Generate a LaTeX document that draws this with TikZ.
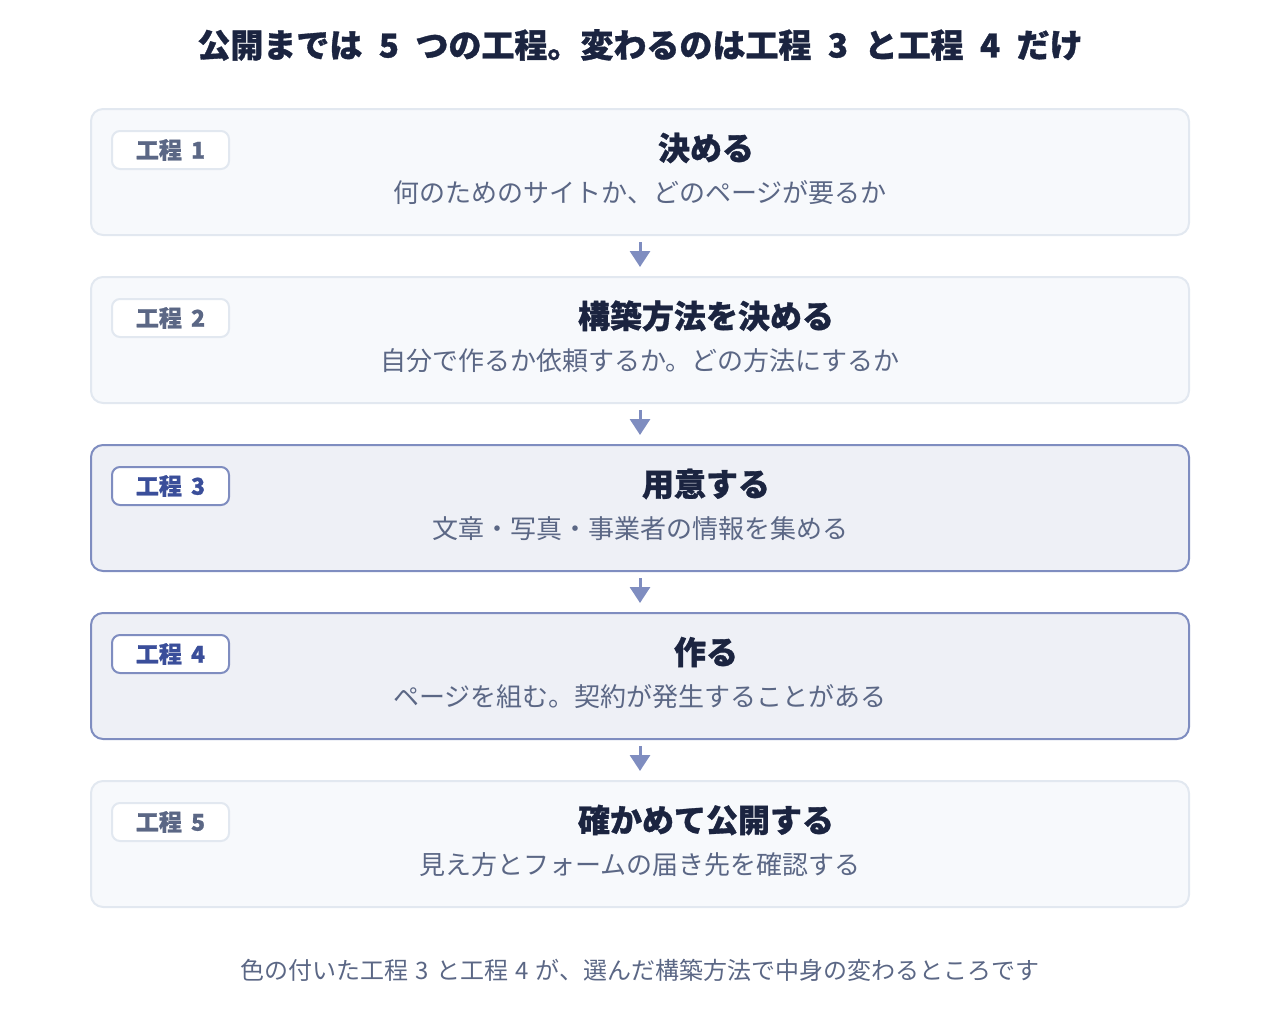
\documentclass[tikz,border=0pt]{standalone}
\usepackage{fontspec}
\setmainfont{Noto Sans CJK JP}[BoldFeatures={FakeBold=1}]
\usetikzlibrary{positioning,arrows.meta}

\definecolor{inkdark}{HTML}{1B2440}
\definecolor{inkgrey}{HTML}{5B6785}
\definecolor{plainfill}{HTML}{F7F9FC}
\definecolor{plainline}{HTML}{E2E8F0}
\definecolor{hotfill}{HTML}{EEF0F6}
\definecolor{hotline}{HTML}{7F8DC0}
\definecolor{hotink}{HTML}{3A4E9A}

\newcommand\numgap[1]{\hspace{#1em}}

\begin{document}
\begin{tikzpicture}
[
    x=1pt, y=1pt,
    node distance = 40pt,
    stepbox/.style  = {rectangle,
                       rounded corners=12pt,
                       minimum width=1098pt,
                       minimum height=126pt,
                       line width=2pt,
                       draw=plainline,
                       fill=plainfill},
    hotbox/.style   = {stepbox,
                       draw=hotline,
                       fill=hotfill},
    badge/.style    = {rectangle,
                       rounded corners=8pt,
                       minimum width=117pt,
                       minimum height=38pt,
                       line width=2pt,
                       draw=plainline,
                       fill=white,
                       text=inkgrey,
                       font=\fontsize{23}{26}\selectfont\bfseries,
                       anchor=north west},
    hotbadge/.style = {badge,
                       draw=hotline,
                       text=hotink},
    head/.style     = {text=inkdark,
                       font=\fontsize{32}{36}\selectfont\bfseries},
    sub/.style      = {text=inkgrey,
                       font=\fontsize{26}{30}\selectfont},
    arr/.style      = {line width=3pt,
                       draw=hotline,
                       -{Triangle[width=20pt,length=16pt]},
                       shorten <=6pt,
                       shorten >=9pt}
]

\useasboundingbox (0,0) rectangle (1280,-1028);

\node (title) [text=inkdark, font=\fontsize{33}{36}\selectfont\bfseries]
    at (640,-45) {公開までは\numgap{.5}5\numgap{.5}つの工程。変わるのは工程\numgap{.5}3\numgap{.5}と工程\numgap{.5}4\numgap{.5}だけ};

% the five steps
\node (s1) [stepbox] at (640,-172) {};
\node (s2) [stepbox, below=of s1] {};
\node (s3) [hotbox, below=of s2] {};
\node (s4) [hotbox, below=of s3] {};
\node (s5) [stepbox, below=of s4] {};

\node (b1) [badge] at ([shift={(21,-22)}]s1.north west) {工程\numgap{.4}1};
\node (b2) [badge] at ([shift={(21,-22)}]s2.north west) {工程\numgap{.4}2};
\node (b3) [hotbadge] at ([shift={(21,-22)}]s3.north west) {工程\numgap{.4}3};
\node (b4) [hotbadge] at ([shift={(21,-22)}]s4.north west) {工程\numgap{.4}4};
\node (b5) [badge] at ([shift={(21,-22)}]s5.north west) {工程\numgap{.4}5};

\node (h1) [head] at ([shift={(66,24)}]s1.center) {決める};
\node (t1) [sub] at ([yshift=-21]s1.center) {何のためのサイトか、どのページが要るか};

\node (h2) [head] at ([shift={(66,24)}]s2.center) {構築方法を決める};
\node (t2) [sub] at ([yshift=-21]s2.center) {自分で作るか依頼するか。どの方法にするか};

\node (h3) [head] at ([shift={(66,24)}]s3.center) {用意する};
\node (t3) [sub] at ([yshift=-21]s3.center) {文章・写真・事業者の情報を集める};

\node (h4) [head] at ([shift={(66,24)}]s4.center) {作る};
\node (t4) [sub] at ([yshift=-21]s4.center) {ページを組む。契約が発生することがある};

\node (h5) [head] at ([shift={(66,24)}]s5.center) {確かめて公開する};
\node (t5) [sub] at ([yshift=-21]s5.center) {見え方とフォームの届き先を確認する};

\draw[arr] (s1) -- (s2);
\draw[arr] (s2) -- (s3);
\draw[arr] (s3) -- (s4);
\draw[arr] (s4) -- (s5);

\node (note) [text=inkgrey, font=\fontsize{24}{28}\selectfont]
    at (640,-970) {色の付いた工程\numgap{.3}3\numgap{.3}と工程\numgap{.3}4\numgap{.3}が、選んだ構築方法で中身の変わるところです};

\end{tikzpicture}
\end{document}
